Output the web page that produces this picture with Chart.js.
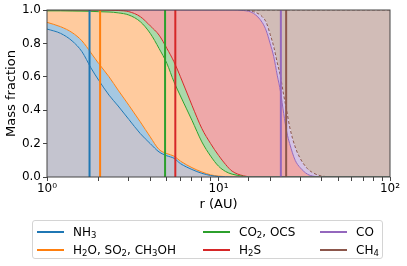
<!DOCTYPE html>
<html>
<head>
<meta charset="utf-8">
<script src="https://cdn.jsdelivr.net/npm/chart.js@4/dist/chart.umd.min.js"></script>
<style>
  html, body { margin: 0; padding: 0; background: #fff; }
  #wrap { position: relative; width: 407px; height: 266px; font-family: "DejaVu Sans", sans-serif; }
  #legend {
    position: absolute; left: 32px; top: 220px; width: 351px; height: 39px;
    border: 1px solid #d4d4d4; border-radius: 3px; box-sizing: border-box;
    font-size: 12px; color: #000;
  }
  .item { position: absolute; height: 14px; line-height: 14px; white-space: nowrap; }
  .item i { position: absolute; left: 0; top: 6px; width: 27px; height: 2px; }
  .item span { position: absolute; left: 36px; top: 0; }
  sub { font-size: 8.5px; vertical-align: -2px; line-height: 0; }
</style>
</head>
<body>
<div id="wrap">
  <canvas id="chart" width="407" height="266"></canvas>
  <div id="legend"></div>
</div>
<script>
const radius = [1, 1.2, 1.4, 1.6, 1.8, 2, 2.3, 2.6, 3, 3.5, 4, 4.5, 5, 5.5, 6, 7, 8, 9, 10, 11, 12,
  14, 16, 18, 19, 20, 21, 22, 23, 24, 25, 26, 28, 30, 33, 36, 40, 50, 70, 100]

// cumulative boundaries, bottom to top
const nh3Edge = [0.886, 0.86, 0.815, 0.75, 0.655, 0.58, 0.49, 0.425, 0.345, 0.26, 0.20, 0.15, 0.127, 0.112, 0.08, 0.045, 0.022, 0.009, 0.003, 0.001, 0,
  0, 0, 0, 0, 0, 0, 0, 0, 0, 0, 0, 0, 0, 0, 0, 0, 0, 0, 0]
const h2oEdge = [0.926, 0.90, 0.865, 0.815, 0.745, 0.68, 0.60, 0.52, 0.43, 0.33, 0.24, 0.165, 0.14, 0.125, 0.095, 0.056, 0.03, 0.013, 0.005, 0.002, 0,
  0, 0, 0, 0, 0, 0, 0, 0, 0, 0, 0, 0, 0, 0, 0, 0, 0, 0, 0]
const co2Edge = [0.995, 0.995, 0.994, 0.993, 0.992, 0.99, 0.988, 0.983, 0.97, 0.93, 0.86, 0.77, 0.68, 0.57, 0.485, 0.34, 0.21, 0.125, 0.065, 0.033, 0.017,
  0.004, 0, 0, 0, 0, 0, 0, 0, 0, 0, 0, 0, 0, 0, 0, 0, 0, 0, 0]
const h2sEdge = [1, 1, 1, 1, 1, 1, 0.999, 0.997, 0.99, 0.96, 0.905, 0.85, 0.77, 0.69, 0.60, 0.43, 0.29, 0.20, 0.13, 0.075, 0.035,
  0.007, 0, 0, 0, 0, 0, 0, 0, 0, 0, 0, 0, 0, 0, 0, 0, 0, 0, 0]
const coEdge = [1, 1, 1, 1, 1, 1, 1, 1, 1, 1, 1, 1, 1, 1, 1, 1, 1, 1, 1, 1, 1,
  0.997, 0.98, 0.925, 0.875, 0.80, 0.72, 0.61, 0.51, 0.38, 0.27, 0.20, 0.10, 0.055, 0.017, 0.004, 0, 0, 0, 0]
const ch4Edge = [1, 1, 1, 1, 1, 1, 1, 1, 1, 1, 1, 1, 1, 1, 1, 1, 1, 1, 1, 1, 1,
  0.999, 0.99, 0.96, 0.925, 0.855, 0.78, 0.685, 0.60, 0.49, 0.395, 0.30, 0.18, 0.11, 0.05, 0.022, 0.006, 0, 0, 0]
const topEdge = radius.map(() => 1)

// snow lines (AU)
const snowLines = [1.77, 2.04, 4.88, 5.6, 23.1, 24.8]

const labels = ['NH<sub>3</sub>', 'H<sub>2</sub>O, SO<sub>2</sub>, CH<sub>3</sub>OH', 'CO<sub>2</sub>, OCS', 'H<sub>2</sub>S', 'CO', 'CH<sub>4</sub>']
const colors = ['#1f77b4', '#ff7f0e', '#2ca02c', '#d62728', '#9467bd', '#8c564b']
const bands = ['rgb(196,196,207)', 'rgb(165,200,226)', 'rgb(255,203,158)', 'rgb(170,217,170)', 'rgb(238,168,169)', 'rgb(212,195,229)', 'rgb(209,188,183)']

const toPoints = (ys) => radius.map((r, i) => ({ x: r, y: ys[i] }))

const datasets = snowLines.map((r, i) => ({
    data: [{ x: r, y: 0 }, { x: r, y: 1 }],
    borderColor: colors[i],
    borderWidth: 2,
    pointRadius: 0,
    fill: false
}))

const edges = [nh3Edge, h2oEdge, co2Edge, h2sEdge, coEdge, ch4Edge, topEdge]
const edgeColors = colors.concat(['rgba(140,86,75,0.8)'])
edges.forEach((ys, i) => {
    datasets.push({
        data: toPoints(ys),
        borderColor: edgeColors[i],
        borderWidth: 1,
        borderDash: i >= 5 ? [3, 2] : [],
        backgroundColor: bands[i],
        fill: i === 0 ? 'origin' : '-1',
        pointRadius: 0,
        cubicInterpolationMode: 'monotone'
    })
})

const frame = {
    id: 'frame',
    afterDatasetsDraw(chart) {
        const { ctx, chartArea: a } = chart
        ctx.save()
        ctx.strokeStyle = '#444'
        ctx.lineWidth = 1
        ctx.strokeRect(a.left, a.top, a.right - a.left, a.bottom - a.top)
        ctx.restore()
    }
}

const sup = ['⁰', '¹', '²']
Chart.defaults.font.family = 'DejaVu Sans'
Chart.defaults.color = '#000'

new Chart(document.getElementById('chart'), {
    type: 'line',
    data: { datasets: datasets },
    options: {
        responsive: false,
        animation: false,
        layout: { padding: { left: 0, top: 10, right: 17, bottom: 0 } },
        plugins: { legend: { display: false }, tooltip: { enabled: false } },
        scales: {
            x: {
                type: 'logarithmic',
                min: 1,
                max: 100,
                border: { display: false },
                grid: { drawOnChartArea: false, tickLength: 4, tickColor: '#444' },
                ticks: {
                    autoSkip: false,
                    maxRotation: 0,
                    padding: 1,
                    font: { size: 12 },
                    callback: (v) => {
                        const e = Math.log10(v)
                        return Math.abs(e - Math.round(e)) < 1e-9 ? '10' + sup[Math.round(e)] : ''
                    }
                },
                title: { display: true, text: 'r (AU)', font: { size: 13 }, padding: { top: 0, bottom: 54 } },
                afterFit: (s) => { s.height = 89 }
            },
            y: {
                min: 0,
                max: 1,
                border: { display: false },
                grid: { drawOnChartArea: false, tickLength: 4, tickColor: '#444' },
                ticks: { stepSize: 0.2, padding: 2, font: { size: 12 }, callback: (v) => v.toFixed(1) },
                title: { display: true, text: 'Mass fraction', font: { size: 13 }, padding: { top: 4, bottom: 0 } },
                afterFit: (s) => { s.width = 47 }
            }
        }
    },
    plugins: [frame]
})

// legend, column-major like the original
const slots = [[4, 4], [4, 22], [170, 4], [170, 22], [287, 4], [287, 22]]
const legend = document.getElementById('legend')
labels.forEach((t, i) => {
    const el = document.createElement('div')
    el.className = 'item'
    el.style.left = slots[i][0] + 'px'
    el.style.top = slots[i][1] + 'px'
    el.innerHTML = '<i style="background:' + colors[i] + '"></i><span>' + t + '</span>'
    legend.appendChild(el)
})
</script>
</body>
</html>
